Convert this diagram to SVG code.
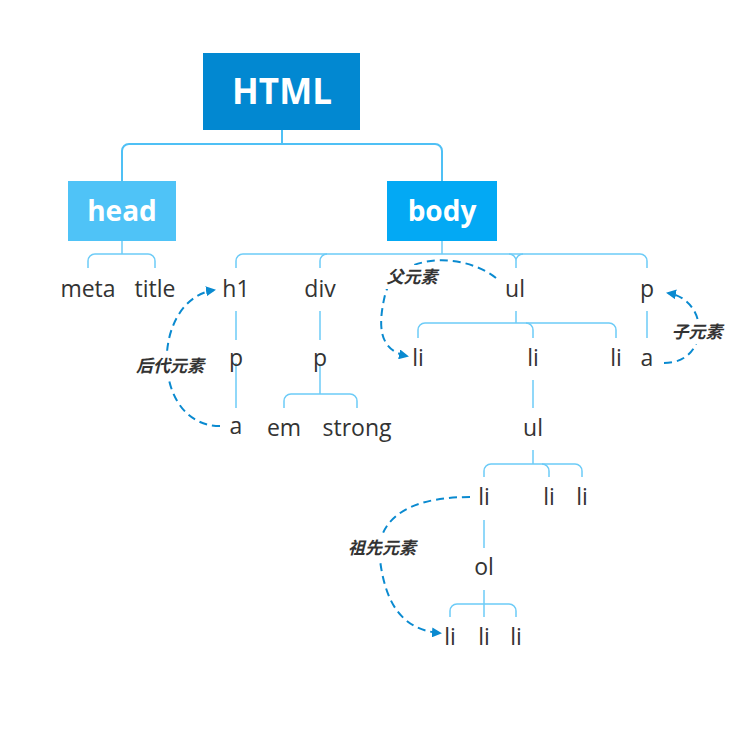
<svg xmlns="http://www.w3.org/2000/svg" width="751" height="730" viewBox="0 0 751 730">
<defs>
<marker id="arr" viewBox="0 0 10 10" refX="8" refY="5" markerWidth="5" markerHeight="5" orient="auto">
<path d="M0,0 L10,5 L0,10 z" fill="#0A8AD0"/>
</marker>
<style>
.ln{fill:none;stroke:#6CCBF7;stroke-width:1.5}
.lt{fill:none;stroke:#4FC0F5;stroke-width:2}
.dash{fill:none;stroke:#0A8AD0;stroke-width:2;stroke-dasharray:8 5;marker-end:url(#arr)}
.t{font-family:"Open Sans","DejaVu Sans",sans-serif;font-size:23px;fill:#333;text-anchor:middle}
.b{font-family:"Open Sans","DejaVu Sans",sans-serif;font-weight:bold;fill:#fff;text-anchor:middle}
.lab{font-family:"Noto Sans CJK SC",sans-serif;font-size:17px;font-weight:bold;font-style:italic;fill:#333;text-anchor:middle}
</style>
</defs>
<rect width="751" height="730" fill="#fff"/>
<g id="connectors">
<path class="lt" d="M282,130 V144"/>
<path class="lt" d="M122,181 V151 a7,7 0 0 1 7,-7 H435 a7,7 0 0 1 7,7 V181"/>
<path class="ln" d="M122,241 V254"/>
<path class="ln" d="M88,268 V261 a7,7 0 0 1 7,-7 H148 a7,7 0 0 1 7,7 V268"/>
<path class="ln" d="M442,241 V254"/>
<path class="ln" d="M236,268 V261 a7,7 0 0 1 7,-7 H640 a7,7 0 0 1 7,7 V268"/>
<path class="ln" d="M320,268 V261 a7,7 0 0 1 7,-7"/>
<path class="ln" d="M516,268 V261 a7,7 0 0 0 -7,-7 M516,261 a7,7 0 0 1 7,-7"/>
<path class="ln" d="M236,311 V340 M236,363 V408"/>
<path class="ln" d="M320,311 V340"/>
<path class="ln" d="M320,364 V394"/>
<path class="ln" d="M284,408 V401 a7,7 0 0 1 7,-7 H350 a7,7 0 0 1 7,7 V408"/>
<path class="ln" d="M516,311 V323"/>
<path class="ln" d="M418,338 V330 a7,7 0 0 1 7,-7 H609 a7,7 0 0 1 7,7 V338"/>
<path class="ln" d="M533,338 V330 a7,7 0 0 0 -7,-7"/>
<path class="ln" d="M647,311 V338"/>
<path class="ln" d="M533,380 V408"/>
<path class="ln" d="M533,450 V464"/>
<path class="ln" d="M484,477 V471 a7,7 0 0 1 7,-7 H575 a7,7 0 0 1 7,7 V477"/>
<path class="ln" d="M549,477 V471 a7,7 0 0 0 -7,-7"/>
<path class="ln" d="M484,520 V548"/>
<path class="ln" d="M484,590 V617"/>
<path class="ln" d="M450,617 V611 a7,7 0 0 1 7,-7 H509 a7,7 0 0 1 7,7 V617"/>
<path class="dash" d="M220,426 C150,426 150,300 214,290"/>
<path class="dash" d="M496,278 C460,250 395,255 385,295 C378,325 378,350 407,356"/>
<path class="dash" d="M664,363 C710,363 710,300 668,293"/>
<path class="dash" d="M470,497 C400,497 375,525 380,560 C385,600 400,630 440,633"/>
</g>
<g id="html"><rect x="203" y="53" width="157" height="77" fill="#0288D1"/><text class="b" x="282" y="104" font-size="35">HTML</text></g>
<g id="head"><rect x="68" y="181" width="108" height="60" fill="#4FC3F7"/><text class="b" x="122" y="221" font-size="28">head</text></g>
<g id="body"><rect x="387" y="181" width="110" height="60" fill="#03A9F4"/><text class="b" x="442" y="221" font-size="28">body</text></g>
<g id="meta"><text class="t" x="88" y="297">meta</text></g>
<g id="title"><text class="t" x="155" y="297">title</text></g>
<g id="h1"><text class="t" x="236" y="297">h1</text></g>
<g id="div"><text class="t" x="320" y="297">div</text></g>
<g id="ul1"><text class="t" x="515" y="297">ul</text></g>
<g id="p1"><text class="t" x="647" y="297">p</text></g>
<g id="p2"><text class="t" x="236" y="366">p</text></g>
<g id="p3"><text class="t" x="320" y="366">p</text></g>
<g id="li1"><text class="t" x="418" y="366">li</text></g>
<g id="li2"><text class="t" x="533" y="366">li</text></g>
<g id="li3"><text class="t" x="616" y="366">li</text></g>
<g id="a2"><text class="t" x="647" y="366">a</text></g>
<g id="a1"><text class="t" x="236" y="434">a</text></g>
<g id="em"><text class="t" x="284" y="436">em</text></g>
<g id="strong"><text class="t" x="357" y="436">strong</text></g>
<g id="ul2"><text class="t" x="533" y="436">ul</text></g>
<g id="li4"><text class="t" x="484" y="505">li</text></g>
<g id="li5"><text class="t" x="549" y="505">li</text></g>
<g id="li6"><text class="t" x="582" y="505">li</text></g>
<g id="ol"><text class="t" x="484" y="575">ol</text></g>
<g id="li7"><text class="t" x="450" y="645">li</text></g>
<g id="li8"><text class="t" x="484" y="645">li</text></g>
<g id="li9"><text class="t" x="516" y="645">li</text></g>
<g id="labels">
<rect x="131" y="354" width="78" height="24" fill="#fff"/>
<text class="lab" x="170" y="372">后代元素</text>
<rect x="382" y="265" width="60" height="24" fill="#fff"/>
<text class="lab" x="412" y="283">父元素</text>
<rect x="667" y="320" width="60" height="24" fill="#fff"/>
<text class="lab" x="697" y="338">子元素</text>
<rect x="343" y="536" width="78" height="24" fill="#fff"/>
<text class="lab" x="382" y="554">祖先元素</text>
</g>
</svg>
